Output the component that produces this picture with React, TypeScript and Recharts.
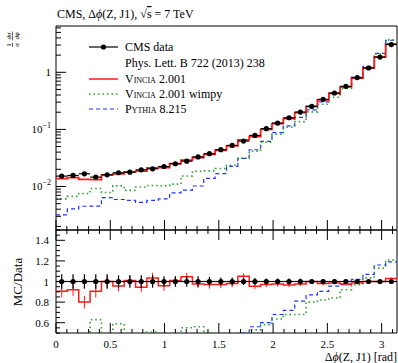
import React from "react";
import {
  ComposedChart,
  Line,
  Scatter,
  XAxis,
  YAxis,
  ErrorBar,
  ReferenceArea,
  Legend,
} from "recharts";

const W = 398;
const H = 363;
const PLOT_L = 56;
const TOP_Y0 = 26;
const SPLIT_Y = 230;
const BOT_Y1 = 333;
const FONT = '"Liberation Serif", "DejaVu Serif", serif';

const COLORS = {
  data: "#000000",
  vincia: "#ff1a1a",
  wimpy: "#2e9e2e",
  pythia: "#1f35ff",
};

// 30 bins in delta phi, 0..pi
const N_BINS = 30;
const BIN_EDGES = Array.from({ length: N_BINS + 1 }, (_, i) => (i * Math.PI) / N_BINS);

const CMS_DATA = [
  0.0152, 0.0156, 0.0167, 0.0146, 0.016, 0.0174, 0.0178, 0.0196, 0.0204, 0.0224,
  0.025, 0.0278, 0.033, 0.0375, 0.0441, 0.0524, 0.0624, 0.0785, 0.103, 0.129,
  0.16, 0.201, 0.253, 0.336, 0.434, 0.568, 0.807, 1.19, 1.85, 3.06,
];
// relative uncertainty of the data
const CMS_ERR = [
  0.07, 0.07, 0.07, 0.07, 0.07, 0.06, 0.06, 0.06, 0.06, 0.05,
  0.05, 0.05, 0.05, 0.045, 0.04, 0.04, 0.035, 0.035, 0.03, 0.03,
  0.03, 0.03, 0.025, 0.025, 0.025, 0.025, 0.02, 0.02, 0.02, 0.02,
];
const VINCIA = [
  0.01376, 0.01435, 0.01336, 0.01321, 0.016, 0.01662, 0.01798, 0.01852, 0.02111, 0.0215,
  0.02525, 0.02905, 0.03218, 0.03638, 0.04278, 0.05135, 0.06552, 0.07497, 0.09991, 0.1258,
  0.1544, 0.196, 0.253, 0.3293, 0.4275, 0.5538, 0.7949, 1.19, 1.85, 3.152,
];
const VINCIA_ERR = [
  0.06, 0.06, 0.06, 0.06, 0.06, 0.05, 0.05, 0.05, 0.05, 0.05,
  0.04, 0.04, 0.04, 0.04, 0.035, 0.035, 0.03, 0.03, 0.025, 0.025,
  0.02, 0.02, 0.02, 0.02, 0.015, 0.015, 0.015, 0.01, 0.01, 0.01,
];
const VINCIA_WIMPY = [
  0.00608, 0.00671, 0.00752, 0.0092, 0.00784, 0.01027, 0.00854, 0.0098, 0.0104, 0.0103,
  0.011, 0.0153, 0.0185, 0.0188, 0.0207, 0.0236, 0.0312, 0.0416, 0.0597, 0.082,
  0.1088, 0.1367, 0.2024, 0.2755, 0.3646, 0.5226, 0.7828, 1.232, 2.091, 3.703,
];
const PYTHIA = [
  0.00319, 0.00406, 0.00451, 0.00453, 0.0064, 0.00592, 0.0057, 0.00529, 0.00571, 0.00605,
  0.00775, 0.00862, 0.0102, 0.0139, 0.0168, 0.0225, 0.0312, 0.044, 0.0618, 0.0877,
  0.1152, 0.1628, 0.2201, 0.3041, 0.4145, 0.551, 0.823, 1.273, 2.146, 3.641,
];

const X_TICKS = Array.from({ length: 32 }, (_, i) => Number((i * 0.1).toFixed(1)));
const X_MAJOR = [0, 0.5, 1, 1.5, 2, 2.5, 3];
const LOG_DOMAIN = [0.00173, 6.47];
const LOG_DECADES = [0.001, 0.01, 0.1, 1];
const LOG_LABELS: Record<string, string | null> = { "0.01": "-2", "0.1": "-1", "1": null };
const RATIO_DOMAIN = [0.5, 1.5];
const RATIO_TICKS = Array.from({ length: 21 }, (_, i) => Number((0.5 + i * 0.05).toFixed(2)));
const RATIO_MAJOR = [0.6, 0.8, 1, 1.2, 1.4];

const LOG_TICKS: number[] = [];
LOG_DECADES.forEach((d) => {
  for (let m = 1; m <= 9; m++) {
    const v = Number((m * d).toPrecision(3));
    if (v >= LOG_DOMAIN[0] && v <= LOG_DOMAIN[1]) LOG_TICKS.push(v);
  }
});

// step rows on bin edges, last value repeated at pi
const histRows = (vals: number[]) =>
  BIN_EDGES.map((x, i) => ({ x, y: vals[Math.min(i, N_BINS - 1)] }));
const ratioOf = (vals: number[]) => vals.map((v, i) => v / CMS_DATA[i]);
const halfBin = Math.PI / N_BINS / 2;

const dataRows = CMS_DATA.map((y, i) => ({
  x: BIN_EDGES[i] + halfBin,
  y,
  ey: y * CMS_ERR[i],
  ex: halfBin,
}));
const dataRatioRows = CMS_DATA.map((_, i) => ({
  x: BIN_EDGES[i] + halfBin,
  y: 1,
  ey: CMS_ERR[i],
  ex: halfBin,
}));
const vinciaRatioErrRows = VINCIA.map((v, i) => ({
  x: BIN_EDGES[i] + halfBin,
  y: v / CMS_DATA[i],
  ey: VINCIA_ERR[i],
}));

const isMajorX = (v: number) => X_MAJOR.some((m) => Math.abs(m - v) < 1e-6);

function TopXTick(props: any) {
  const { x, payload } = props;
  const len = isMajorX(payload.value) ? 10 : 4;
  return <line x1={x} x2={x} y1={SPLIT_Y} y2={SPLIT_Y - len} stroke="#000" />;
}

function BottomXTick(props: any) {
  const { x, payload } = props;
  const major = isMajorX(payload.value);
  const len = major ? 10 : 4;
  return (
    <g>
      <line x1={x} x2={x} y1={BOT_Y1} y2={BOT_Y1 - len} stroke="#000" />
      <line x1={x} x2={x} y1={SPLIT_Y} y2={SPLIT_Y + len} stroke="#000" />
      {major && (
        <text x={x} y={348} textAnchor="middle" fontSize={11} fontFamily={FONT} fill="#000">
          {String(payload.value)}
        </text>
      )}
    </g>
  );
}

function LogYTick(props: any) {
  const { y, payload } = props;
  const key = String(payload.value);
  const major = key in LOG_LABELS;
  const exp = LOG_LABELS[key];
  return (
    <g>
      <line x1={PLOT_L} x2={PLOT_L + (major ? 10 : 5)} y1={y} y2={y} stroke="#000" />
      {major && (
        <text x={51} y={y + 4} textAnchor="end" fontSize={11} fontFamily={FONT} fill="#000">
          {exp ? "10" : "1"}
          {exp && (
            <tspan dy={-5} fontSize={8}>
              {exp.replace("-", "\u2212")}
            </tspan>
          )}
        </text>
      )}
    </g>
  );
}

function RatioYTick(props: any) {
  const { y, payload } = props;
  const major = RATIO_MAJOR.some((m) => Math.abs(m - payload.value) < 1e-6);
  return (
    <g>
      <line x1={PLOT_L} x2={PLOT_L + (major ? 9 : 4)} y1={y} y2={y} stroke="#000" />
      {major && (
        <text x={49} y={y + 4} textAnchor="end" fontSize={11} fontFamily={FONT} fill="#000">
          {String(payload.value)}
        </text>
      )}
    </g>
  );
}

function LegendBox() {
  const rowY = [9, 25, 41, 56, 71];
  const tx = 39;
  return (
    <svg width={210} height={80} style={{ display: "block", fontFamily: FONT }}>
      <line x1={3} x2={32} y1={rowY[0]} y2={rowY[0]} stroke={COLORS.data} strokeWidth={1.2} />
      <circle cx={17.5} cy={rowY[0]} r={2.6} fill={COLORS.data} />
      <text x={tx} y={rowY[0] + 4} fontSize={12}>CMS data</text>
      <text x={tx} y={rowY[1] + 4} fontSize={12}>Phys. Lett. B 722 (2013) 238</text>
      <line x1={3} x2={32} y1={rowY[2]} y2={rowY[2]} stroke={COLORS.vincia} strokeWidth={1.5} />
      <text x={tx} y={rowY[2] + 4} fontSize={12}>
        <tspan style={{ fontVariant: "small-caps" }}>Vincia</tspan> 2.001
      </text>
      <line x1={3} x2={32} y1={rowY[3]} y2={rowY[3]} stroke={COLORS.wimpy} strokeWidth={1.6} strokeDasharray="1.5 3" />
      <text x={tx} y={rowY[3] + 4} fontSize={12}>
        <tspan style={{ fontVariant: "small-caps" }}>Vincia</tspan> 2.001 wimpy
      </text>
      <line x1={3} x2={32} y1={rowY[4]} y2={rowY[4]} stroke={COLORS.pythia} strokeWidth={1.2} strokeDasharray="4 3" />
      <text x={tx} y={rowY[4] + 4} fontSize={12}>
        <tspan style={{ fontVariant: "small-caps" }}>Pythia</tspan> 8.215
      </text>
    </svg>
  );
}

export default function App() {
  return (
    <div style={{ position: "absolute", left: 0, top: 0, width: W, height: H, fontFamily: FONT, background: "#fff" }}>
      {/* upper panel: distribution, log scale */}
      <div style={{ position: "absolute", left: 0, top: 0 }}>
        <ComposedChart
          width={W}
          height={H}
          margin={{ top: TOP_Y0, right: 1, bottom: H - SPLIT_Y - 20, left: 0 }}
        >
          <XAxis
            type="number"
            dataKey="x"
            domain={[0, Math.PI]}
            allowDataOverflow
            ticks={X_TICKS}
            interval={0}
            height={20}
            axisLine={false}
            tickLine={false}
            tick={(p: any) => <TopXTick {...p} />}
          />
          <YAxis
            type="number"
            scale="log"
            domain={LOG_DOMAIN}
            allowDataOverflow
            ticks={LOG_TICKS}
            interval={0}
            width={PLOT_L}
            axisLine={false}
            tickLine={false}
            tick={(p: any) => <LogYTick {...p} />}
          />
          <ReferenceArea
            x1={0}
            x2={Math.PI}
            y1={LOG_DOMAIN[0]}
            y2={LOG_DOMAIN[1]}
            fill="none"
            stroke="#000"
            strokeWidth={1}
            fillOpacity={0}
          />
          <Legend
            layout="vertical"
            align="center"
            verticalAlign="middle"
            wrapperStyle={{ position: "absolute", left: 86, top: 38, width: 210, height: 80 }}
            content={() => <LegendBox />}
          />
          <Line data={histRows(PYTHIA)} dataKey="y" type="stepAfter" stroke={COLORS.pythia} strokeWidth={1.2} strokeDasharray="4 3" dot={false} isAnimationActive={false} />
          <Line data={histRows(VINCIA_WIMPY)} dataKey="y" type="stepAfter" stroke={COLORS.wimpy} strokeWidth={1.6} strokeDasharray="1.5 3" dot={false} isAnimationActive={false} />
          <Line data={histRows(VINCIA)} dataKey="y" type="stepAfter" stroke={COLORS.vincia} strokeWidth={1.8} dot={false} isAnimationActive={false} />
          <Scatter
            data={dataRows}
            dataKey="y"
            isAnimationActive={false}
            shape={(p: any) => <circle cx={p.cx} cy={p.cy} r={2.6} fill={COLORS.data} />}
          >
            <ErrorBar dataKey="ey" direction="y" width={0} stroke={COLORS.data} strokeWidth={1.2} />
            <ErrorBar dataKey="ex" direction="x" width={0} stroke={COLORS.data} strokeWidth={1.2} />
          </Scatter>
          <text x={57} y={18} fontSize={12} fontFamily={FONT}>
            CMS, Δ<tspan fontStyle="italic">ϕ</tspan>(Z, J1), √<tspan style={{ textDecoration: "overline" }}>s</tspan> = 7 TeV
          </text>
          <g transform="translate(12.5, 47) rotate(-90)" fontSize={7} fontFamily={FONT}>
            <text x={2} y={-1.5} textAnchor="middle">1</text>
            <line x1={0} x2={4} y1={0} y2={0} stroke="#000" strokeWidth={0.6} />
            <text x={2} y={6} textAnchor="middle" fontStyle="italic">σ</text>
            <text x={11} y={-1.5} textAnchor="middle" fontStyle="italic">dσ</text>
            <line x1={6.5} x2={15.5} y1={0} y2={0} stroke="#000" strokeWidth={0.6} />
            <text x={11} y={6} textAnchor="middle" fontStyle="italic">dϕ</text>
          </g>
        </ComposedChart>
      </div>

      {/* lower panel: MC / data */}
      <div style={{ position: "absolute", left: 0, top: 0 }}>
        <ComposedChart
          width={W}
          height={H}
          margin={{ top: SPLIT_Y, right: 1, bottom: H - BOT_Y1 - 20, left: 0 }}
        >
          <XAxis
            type="number"
            dataKey="x"
            domain={[0, Math.PI]}
            allowDataOverflow
            ticks={X_TICKS}
            interval={0}
            height={20}
            axisLine={false}
            tickLine={false}
            tick={(p: any) => <BottomXTick {...p} />}
          />
          <YAxis
            type="number"
            domain={RATIO_DOMAIN}
            allowDataOverflow
            ticks={RATIO_TICKS}
            interval={0}
            width={PLOT_L}
            axisLine={false}
            tickLine={false}
            tick={(p: any) => <RatioYTick {...p} />}
          />
          <ReferenceArea
            x1={0}
            x2={Math.PI}
            y1={RATIO_DOMAIN[0]}
            y2={RATIO_DOMAIN[1]}
            fill="none"
            stroke="#000"
            strokeWidth={1}
            fillOpacity={0}
          />
          <Line data={histRows(ratioOf(PYTHIA))} dataKey="y" type="stepAfter" stroke={COLORS.pythia} strokeWidth={1.2} strokeDasharray="4 3" dot={false} isAnimationActive={false} />
          <Line data={histRows(ratioOf(VINCIA_WIMPY))} dataKey="y" type="stepAfter" stroke={COLORS.wimpy} strokeWidth={1.6} strokeDasharray="1.5 3" dot={false} isAnimationActive={false} />
          <Line data={histRows(ratioOf(VINCIA))} dataKey="y" type="stepAfter" stroke={COLORS.vincia} strokeWidth={1.5} dot={false} isAnimationActive={false} />
          <Scatter data={vinciaRatioErrRows} dataKey="y" isAnimationActive={false} shape={() => <g />}>
            <ErrorBar dataKey="ey" direction="y" width={0} stroke={COLORS.vincia} strokeWidth={1} />
          </Scatter>
          <Scatter
            data={dataRatioRows}
            dataKey="y"
            isAnimationActive={false}
            shape={(p: any) => <circle cx={p.cx} cy={p.cy} r={2.6} fill={COLORS.data} />}
          >
            <ErrorBar dataKey="ey" direction="y" width={0} stroke={COLORS.data} strokeWidth={1.2} />
            <ErrorBar dataKey="ex" direction="x" width={0} stroke={COLORS.data} strokeWidth={1.2} />
          </Scatter>
          <text transform="translate(22, 282) rotate(-90)" textAnchor="middle" fontSize={13} fontFamily={FONT}>
            MC/Data
          </text>
          <text x={397} y={361} textAnchor="end" fontSize={12} fontFamily={FONT}>
            Δ<tspan fontStyle="italic">ϕ</tspan>(Z, J1) [rad]
          </text>
        </ComposedChart>
      </div>
    </div>
  );
}
